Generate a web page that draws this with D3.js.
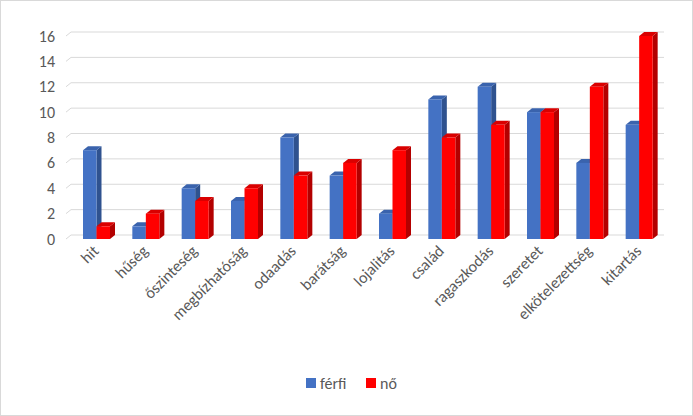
<!DOCTYPE html>
<html><head><meta charset="utf-8">
<script src="https://cdn.jsdelivr.net/npm/d3@7"></script>
<style>body{margin:0;background:#fff}svg{font-family:Calibri,"Liberation Sans",Arial,sans-serif}</style>
</head><body><svg id="c" width="693" height="416"></svg>
<script>
const categories = ["hit","hűség","őszinteség","megbízhatóság","odaadás","barátság","lojalitás","család","ragaszkodás","szeretet","elkötelezettség","kitartás"];
const ferfi = [7,1,4,3,8,5,2,11,12,10,6,9];
const no = [1,2,3,4,5,6,7,8,9,10,12,16];
const seriesNames = ["férfi","nő"];

const svg = d3.select("#c");
svg.append("rect").attr("x",0.5).attr("y",0.5).attr("width",692).attr("height",415)
  .attr("fill","#fff").attr("stroke","#d9d9d9");

const x = d3.scaleBand().domain(categories).range([72,664]);
const y = d3.scaleLinear().domain([0,16]).range([235,32]);
const dx = 5, dy = 4;

// gridlines with 3D wall stub
y.ticks(8).forEach(t => {
  svg.append("line").attr("x1",66).attr("y1",y(t)+dy).attr("x2",66+dx).attr("y2",y(t))
    .attr("stroke","#d9d9d9");
  svg.append("line").attr("x1",66+dx).attr("y1",y(t)).attr("x2",664).attr("y2",y(t))
    .attr("stroke","#d9d9d9");
  svg.append("text").attr("x",55).attr("y",y(t)+dy).attr("dy","0.35em")
    .attr("text-anchor","end").attr("font-size",16).attr("fill","#595959").text(t);
});

const colors = [["#4472c4","#2f528f","#3a63ad"],["#ff0000","#b30000","#d90000"]];
const bw = 13.5;
[ferfi,no].forEach((vals,si) => {
  const c = colors[si];
  categories.forEach((cat,i) => {
    const x0 = x(cat) + 11 + si*bw;
    const yt = y(vals[i]), yb = y(0)+dy;
    const top = yt+dy;
    svg.append("path").attr("fill",c[1])
      .attr("d",`M${x0+bw},${top}L${x0+bw+dx},${yt}L${x0+bw+dx},${yb-dy}L${x0+bw},${yb}Z`);
    svg.append("path").attr("fill",c[2])
      .attr("d",`M${x0},${top}L${x0+dx},${yt}L${x0+bw+dx},${yt}L${x0+bw},${top}Z`);
    svg.append("rect").attr("x",x0).attr("y",top).attr("width",bw).attr("height",yb-top).attr("fill",c[0]);
  });
});

categories.forEach(cat => {
  const cx = x(cat) + x.bandwidth()/2 + 3;
  svg.append("text").attr("transform",`translate(${cx},${252}) rotate(-45)`)
    .attr("text-anchor","end").attr("font-size",16).attr("fill","#595959").text(cat);
});

const lg = svg.append("g").attr("transform","translate(306,383)");
seriesNames.forEach((n,i) => {
  const g = lg.append("g").attr("transform",`translate(${i*60},0)`);
  g.append("rect").attr("x",0).attr("y",-5).attr("width",10).attr("height",10).attr("fill",colors[i][0]);
  g.append("text").attr("x",14).attr("y",0).attr("dy","0.35em").attr("font-size",16).attr("fill","#595959").text(n);
});
</script></body></html>
